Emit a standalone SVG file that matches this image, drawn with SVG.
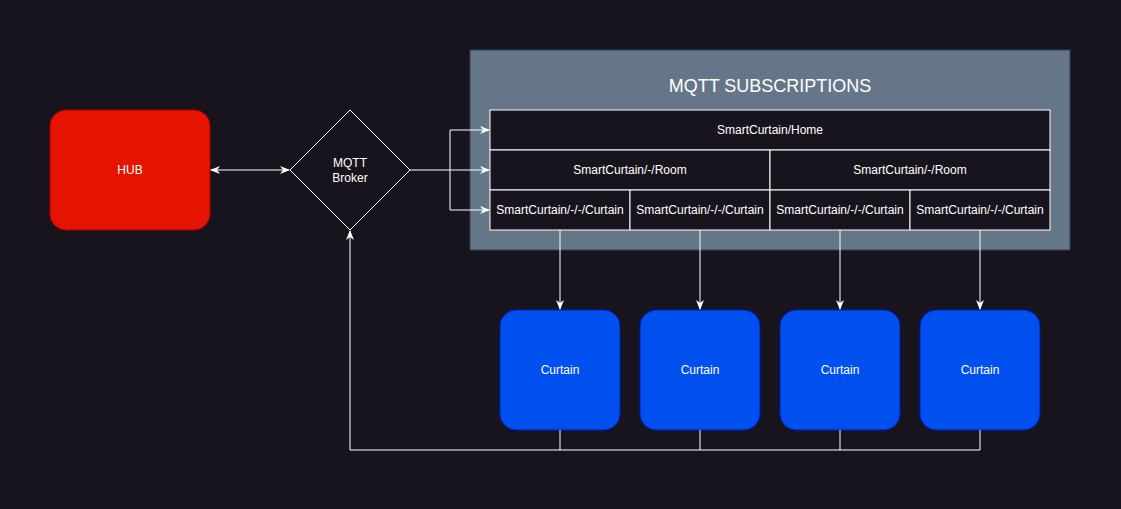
<svg xmlns="http://www.w3.org/2000/svg" width="1121" height="509" viewBox="0 0 1121 509">
<style>
text{font-family:"Liberation Sans",Arial,Helvetica,sans-serif;fill:#ffffff;font-size:12px;text-anchor:middle;dominant-baseline:central}
.cell{fill:#18141d;stroke:#ffffff;stroke-width:1}
.curtain{fill:#0050ef;stroke:#001dbc;stroke-width:1}
.conn{fill:none;stroke:#ffffff;stroke-width:1}
</style>
<defs>
<marker id="arr" viewBox="0 0 10 10" refX="9" refY="5" markerWidth="10" markerHeight="10" markerUnits="userSpaceOnUse" orient="auto-start-reverse">
<path d="M0,1 L10,5 L0,9 L3,5 Z" fill="#ffffff"/>
</marker>
</defs>
<rect width="1121" height="509" fill="#18141d"/>
<g id="subscriptions">
<rect x="470" y="50" width="600" height="200" fill="#647687" stroke="#314354"/>
<text x="770" y="86" style="font-size:18px">MQTT SUBSCRIPTIONS</text>
</g>
<g id="home">
<rect class="cell" x="490" y="110" width="560" height="40"/>
<text x="770" y="130">SmartCurtain/Home</text>
</g>
<g id="room1">
<rect class="cell" x="490" y="150" width="280" height="40"/>
<text x="630" y="170">SmartCurtain/-/Room</text>
</g>
<g id="room2">
<rect class="cell" x="770" y="150" width="280" height="40"/>
<text x="910" y="170">SmartCurtain/-/Room</text>
</g>
<g id="sub1">
<rect class="cell" x="490" y="190" width="140" height="40"/>
<text x="560" y="210">SmartCurtain/-/-/Curtain</text>
</g>
<g id="sub2">
<rect class="cell" x="630" y="190" width="140" height="40"/>
<text x="700" y="210">SmartCurtain/-/-/Curtain</text>
</g>
<g id="sub3">
<rect class="cell" x="770" y="190" width="140" height="40"/>
<text x="840" y="210">SmartCurtain/-/-/Curtain</text>
</g>
<g id="sub4">
<rect class="cell" x="910" y="190" width="140" height="40"/>
<text x="980" y="210">SmartCurtain/-/-/Curtain</text>
</g>
<g id="hub">
<rect x="50" y="110" width="160" height="120" rx="16" fill="#e51400" stroke="#b20000"/>
<text x="130" y="170">HUB</text>
</g>
<g id="broker">
<path d="M350,110 L410,170 L350,230 L290,170 Z" fill="#18141d" stroke="#ffffff"/>
<text x="350" y="163">MQTT</text>
<text x="350" y="178">Broker</text>
</g>
<g id="curtain1">
<rect class="curtain" x="500" y="310" width="120" height="120" rx="16"/>
<text x="560" y="370">Curtain</text>
</g>
<g id="curtain2">
<rect class="curtain" x="640" y="310" width="120" height="120" rx="16"/>
<text x="700" y="370">Curtain</text>
</g>
<g id="curtain3">
<rect class="curtain" x="780" y="310" width="120" height="120" rx="16"/>
<text x="840" y="370">Curtain</text>
</g>
<g id="curtain4">
<rect class="curtain" x="920" y="310" width="120" height="120" rx="16"/>
<text x="980" y="370">Curtain</text>
</g>
<g id="connectors">
<path class="conn" d="M211,170 L289,170" marker-start="url(#arr)" marker-end="url(#arr)"/>
<path class="conn" d="M410,170 L489,170" marker-end="url(#arr)"/>
<path class="conn" d="M450,170 L450,130 L489,130" marker-end="url(#arr)"/>
<path class="conn" d="M450,170 L450,210 L489,210" marker-end="url(#arr)"/>
<path class="conn" d="M560,230 L560,309" marker-end="url(#arr)"/>
<path class="conn" d="M700,230 L700,309" marker-end="url(#arr)"/>
<path class="conn" d="M840,230 L840,309" marker-end="url(#arr)"/>
<path class="conn" d="M980,230 L980,309" marker-end="url(#arr)"/>
<path class="conn" d="M560,430 L560,450 L350,450 L350,231" marker-end="url(#arr)"/>
<path class="conn" d="M700,430 L700,450 L560,450"/>
<path class="conn" d="M840,430 L840,450 L700,450"/>
<path class="conn" d="M980,430 L980,450 L840,450"/>
</g>
</svg>
